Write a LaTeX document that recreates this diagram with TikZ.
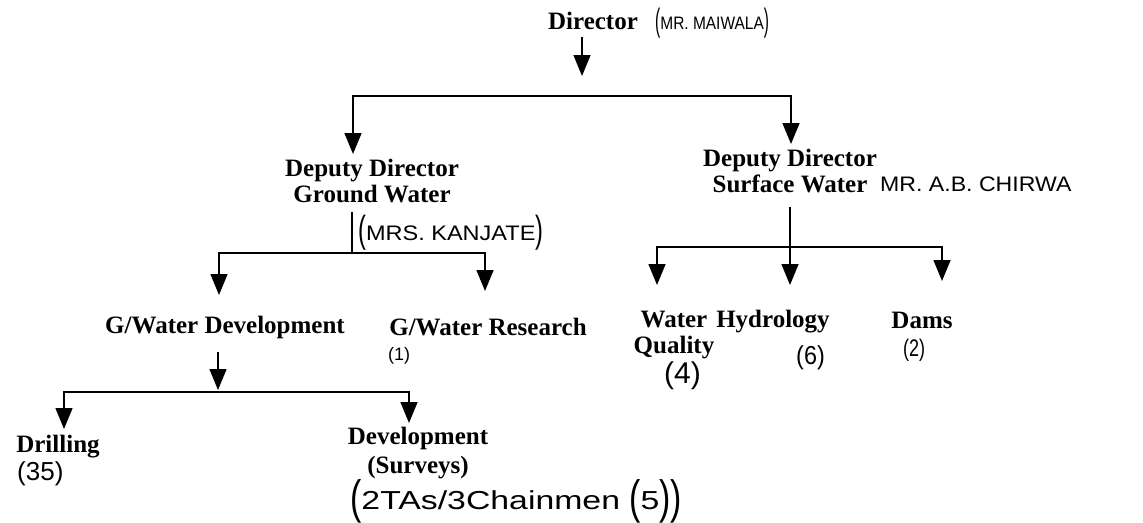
\documentclass[tikz,border=0pt]{standalone}
\usepackage{fontspec}
\setmainfont{Liberation Serif}
\newfontfamily\handfont{Liberation Sans}
\usetikzlibrary{arrows.meta}
\newcommand\bigparen[1]{\raisebox{-0.12em}{\scalebox{1}[1.8]{#1}}}
\tikzset{
  unit/.style={font=\bfseries\fontsize{25}{26}\selectfont, inner sep=0pt, align=center},
  hand/.style={font=\handfont\fontsize{#1}{#1}\selectfont, inner sep=0pt, anchor=west},
  hand/.default=16,
  conn/.style={line width=1.5pt, line cap=rect},
  arr/.style={line width=1.5pt, -{Triangle[length=21pt,width=17pt]}}
}
\begin{document}
\begin{tikzpicture}[x=1pt,y=-1pt]
\fill[white] (0,0) rectangle (1143,522);
\useasboundingbox (0,0) rectangle (1143,522);

% Director
\node[unit] (dir) at (593,21) {Director};
\node[hand=18] (dirnote) at (655,23) {\scalebox{0.86}[1]{\bigparen{(}MR. MAIWALA\bigparen{)}}};
\coordinate (dirS) at (582,37);
\coordinate (dirT) at (582,76);
\draw[arr] (dirS) -- (dirT);

% main bar
\coordinate (b1L) at (353,96);
\coordinate (b1R) at (791,96);
\coordinate (t1L) at (353,154);
\coordinate (t1R) at (791,144);
\draw[conn] (b1L) -- (b1R);
\draw[arr] (b1L) -- (t1L);
\draw[arr] (b1R) -- (t1R);

% Deputy directors
\node[unit] (ddg) at (372,181) {Deputy Director\\Ground Water};
\node[unit] (dds) at (790,171) {Deputy Director\\Surface Water};
\node[hand=21] (ddsnote) at (880,184) {\scalebox{1.1}[1]{MR. A.B. CHIRWA}};
\node[hand=21] (ddgnote) at (358,233) {\scalebox{1.12}[1]{\bigparen{(}MRS. KANJATE\bigparen{)}}};

% Ground water branch
\coordinate (s2) at (352,213);
\coordinate (b2M) at (352,253);
\coordinate (b2L) at (219,253);
\coordinate (b2R) at (485,253);
\coordinate (t2L) at (219,295);
\coordinate (t2R) at (485,291);
\draw[conn] (s2) -- (b2M);
\draw[conn] (b2L) -- (b2R);
\draw[arr] (b2L) -- (t2L);
\draw[arr] (b2R) -- (t2R);
\node[unit] (gwd) at (225,327) {G/Water Development};
\node[unit] (gwr) at (488,327) {G/Water Research};
\node[hand=18] (gwrnote) at (388,356) {(1)};

% Surface water branch
\coordinate (s3) at (790,207);
\coordinate (b3L) at (657,247);
\coordinate (b3R) at (942,247);
\coordinate (t3L) at (657,285);
\coordinate (t3M) at (790,285);
\coordinate (t3R) at (942,281);
\draw[conn] (b3L) -- (b3R);
\draw[arr] (s3) -- (t3M);
\draw[arr] (b3L) -- (t3L);
\draw[arr] (b3R) -- (t3R);
\node[unit] (wq) at (674,335) {Water\\Quality};
\node[unit] (hyd) at (773,322) {Hydrology};
\node[unit] (dams) at (922,320) {Dams};
\node[hand=30] (wqnote) at (664,376) {(4)};
\node[hand=26] (hydnote) at (796,358) {\scalebox{0.9}[1]{(6)}};
\node[hand=24] (damsnote) at (903,350) {\scalebox{0.75}[1]{(2)}};

% Development branch
\coordinate (s4) at (218,352);
\coordinate (t4) at (218,390);
\coordinate (b4L) at (64,392);
\coordinate (b4R) at (409,392);
\coordinate (t4L) at (64,429);
\coordinate (t4R) at (409,423);
\draw[arr] (s4) -- (t4);
\draw[conn] (b4L) -- (b4R);
\draw[arr] (b4L) -- (t4L);
\draw[arr] (b4R) -- (t4R);
\node[unit] (dri) at (58,447) {Drilling};
\node[unit, font=\bfseries\fontsize{25}{29}\selectfont] (dev) at (418,453) {Development\\(Surveys)};
\node[hand=26] (drinote) at (17,474) {(35)};
\node[hand=26] (devnote) at (350,501) {\scalebox{1.3}[1]{\bigparen{(}2TAs/3Chainmen \bigparen{(}5\bigparen{)}\bigparen{)}}};
\end{tikzpicture}
\end{document}
